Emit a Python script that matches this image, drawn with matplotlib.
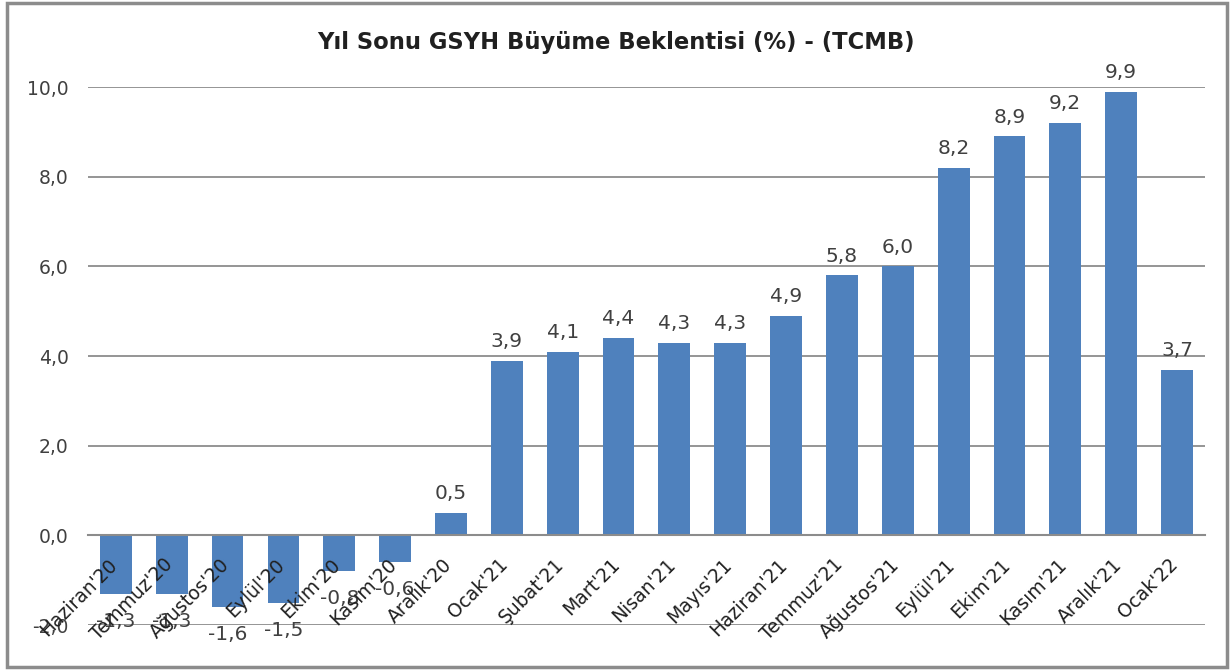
import matplotlib.pyplot as plt
from matplotlib.patches import Rectangle
from matplotlib.transforms import ScaledTranslation

months = ["Haziran'20", "Temmuz'20", "Ağustos'20", "Eylül'20", "Ekim'20", "Kasım'20",
          "Aralık'20", "Ocak'21", "Şubat'21", "Mart'21", "Nisan'21", "Mayıs'21",
          "Haziran'21", "Temmuz'21", "Ağustos'21", "Eylül'21", "Ekim'21", "Kasım'21",
          "Aralık'21", "Ocak'22"]
growth = [-1.3, -1.3, -1.6, -1.5, -0.8, -0.6, 0.5, 3.9, 4.1, 4.4, 4.3, 4.3,
          4.9, 5.8, 6.0, 8.2, 8.9, 9.2, 9.9, 3.7]
yticks = [-2, 0, 2, 4, 6, 8, 10]

plt.rcParams["font.family"] = ["DejaVu Sans"]

fig = plt.figure(figsize=(12.32, 6.70), dpi=100)
ax = fig.add_axes([0.0714, 0.067, 0.9066, 0.803])

# zero line carries the category labels, as in Excel
ax.spines["bottom"].set_position(("data", 0))
ax.spines["bottom"].set_color("#8c8c8c")
ax.spines["bottom"].set_linewidth(1.5)
ax.spines["bottom"].set_zorder(3)
for s in ["top", "left", "right"]:
    ax.spines[s].set_visible(False)

x = range(len(months))
ax.bar(x, growth, width=0.57, color="#4F81BD", zorder=2)

for xi, v in zip(x, growth):
    lab = f"{v:.1f}".replace(".", ",")
    if v >= 0:
        ax.annotate(lab, (xi, v), xytext=(0, 7), textcoords="offset points",
                    ha="center", va="bottom", fontsize=14.5, color="#404040")
    else:
        ax.annotate(lab, (xi, v), xytext=(0, -13), textcoords="offset points",
                    ha="center", va="top", fontsize=14.5, color="#404040")

ax.set_xlim(-0.5, len(months) - 0.5)
ax.set_ylim(-2, 10)
ax.set_yticks(yticks)
ax.set_yticklabels([f"{t:.1f}".replace(".", ",") for t in yticks], fontsize=13.5, color="#404040")
ax.set_xticks(list(x))
ax.set_xticklabels(months, rotation=45, ha="right", va="top", rotation_mode="anchor",
                   fontsize=13.5, color="#202020")
ax.tick_params(axis="both", length=0)
ax.tick_params(axis="y", pad=14)
ax.tick_params(axis="x", pad=14)

shift = ScaledTranslation(-6 / 72, 0, fig.dpi_scale_trans)
for lbl in ax.get_xticklabels():
    lbl.set_transform(lbl.get_transform() + shift)

ax.yaxis.grid(True, color="#8c8c8c", linewidth=1.3)
ax.set_axisbelow(True)
ax.xaxis.set_zorder(3)  # category labels sit on top of the negative bars

fig.text(0.5, 0.937, "Yıl Sonu GSYH Büyüme Beklentisi (%) - (TCMB)", ha="center", va="center",
         fontsize=16.3, fontweight="bold", color="#202020")

fig.patches.append(Rectangle((0.006, 0.004), 0.99, 0.992, transform=fig.transFigure,
                             fill=False, edgecolor="#8c8c8c", linewidth=2.5))

fig.savefig("out.png", dpi=100)
